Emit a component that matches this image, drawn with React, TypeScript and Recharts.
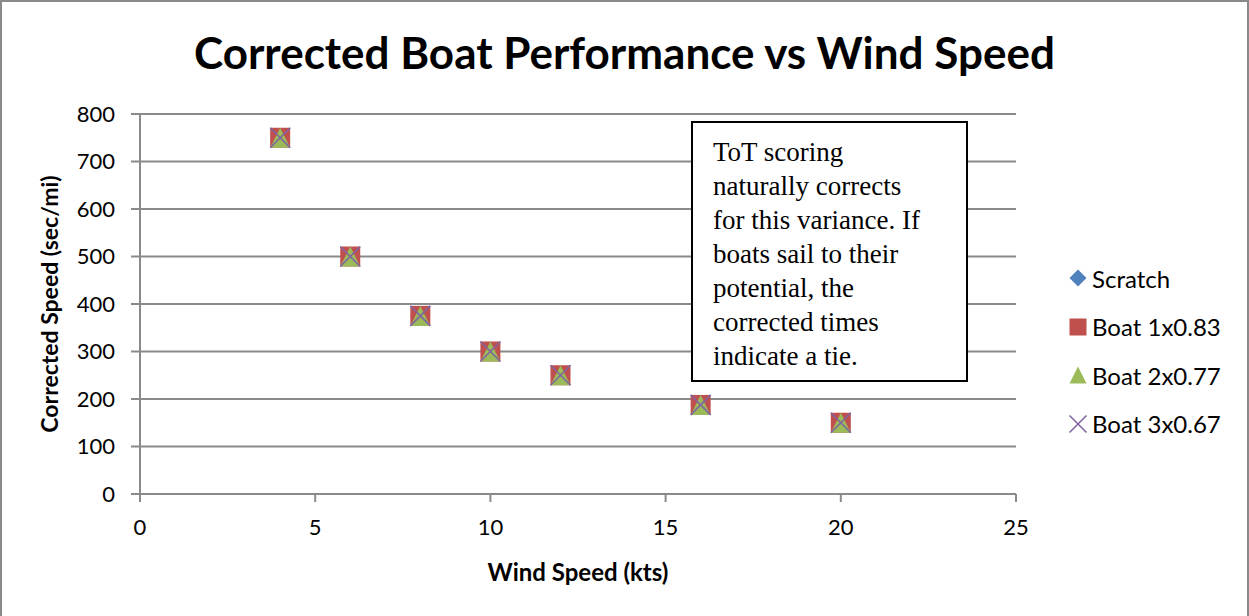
import { ScatterChart, Scatter, XAxis, YAxis, CartesianGrid, Legend } from "recharts"

const windSpeed = [4, 6, 8, 10, 12, 16, 20]
const scratch = [750, 500, 375, 300, 250, 187.5, 150]
const boat1 = [750, 500, 375, 300, 250, 187.5, 150]
const boat2 = [750, 500, 375, 300, 250, 187.5, 150]
const boat3 = [750, 500, 375, 300, 250, 187.5, 150]
const xTicks = [0, 5, 10, 15, 20, 25]
const yTicks = [0, 100, 200, 300, 400, 500, 600, 700, 800]

const seriesNames = ["Scratch", "Boat 1x0.83", "Boat 2x0.77", "Boat 3x0.67"]
const colors = ["#4F81BD", "#C0504D", "#9BBB59", "#8064A2"]
const noteLines = [
  "ToT scoring",
  "naturally corrects",
  "for this variance. If",
  "boats sail to their",
  "potential, the",
  "corrected times",
  "indicate a tie.",
]

const toPoints = (vals: number[]) => windSpeed.map((x, i) => ({ x, y: vals[i] }))

const FONT = "Lato, 'Open Sans', sans-serif"

function Marker({ kind, cx, cy, s }: { kind: number; cx: number; cy: number; s: number }) {
  const h = s / 2
  if (kind === 0)
    return <polygon points={`${cx},${cy - h} ${cx + h},${cy} ${cx},${cy + h} ${cx - h},${cy}`} fill={colors[0]} />
  if (kind === 1) return <rect x={cx - h} y={cy - h} width={s} height={s} fill={colors[1]} />
  if (kind === 2)
    return <polygon points={`${cx},${cy - h} ${cx + h},${cy + h} ${cx - h},${cy + h}`} fill={colors[2]} />
  return (
    <g stroke={colors[3]} strokeWidth={1.6}>
      <line x1={cx - h} y1={cy - h} x2={cx + h} y2={cy + h} />
      <line x1={cx - h} y1={cy + h} x2={cx + h} y2={cy - h} />
    </g>
  )
}

function LegendBox() {
  return (
    <div style={{ fontFamily: FONT, fontSize: 24, color: "#000" }}>
      {seriesNames.map((n, i) => (
        <div key={n} style={{ display: "flex", alignItems: "center", height: 48.5 }}>
          <svg width={20} height={20} style={{ marginRight: 4 }}>
            <Marker kind={i} cx={10} cy={10} s={17} />
          </svg>
          <span>{n}</span>
        </div>
      ))}
    </div>
  )
}

export default function App() {
  const all = [scratch, boat1, boat2, boat3]
  return (
    <div
      style={{
        position: "fixed",
        left: 0,
        top: 0,
        width: 1249,
        height: 616,
        background: "#fff",
        boxSizing: "border-box",
        borderTop: "2px solid #8a8a8a",
        borderLeft: "2px solid #8a8a8a",
        borderRight: "2px solid #8a8a8a",
        overflow: "hidden",
      }}
    >
      <div
        style={{
          position: "absolute",
          left: -2,
          top: 24,
          width: 1249,
          textAlign: "center",
          fontFamily: FONT,
          fontWeight: 700,
          fontSize: 44,
          lineHeight: "52px",
          color: "#000",
        }}
      >
        Corrected Boat Performance vs Wind Speed
      </div>
      <div style={{ position: "absolute", left: -2, top: -2 }}>
        <ScatterChart width={1249} height={616} margin={{ top: 114, right: 53, bottom: 62, left: 40 }}>
          <CartesianGrid horizontal vertical={false} stroke="#8a8a8a" strokeWidth={2} />
          <XAxis
            type="number"
            dataKey="x"
            domain={[0, 25]}
            ticks={xTicks}
            height={60}
            stroke="#8a8a8a"
            strokeWidth={2}
            tickSize={8}
            tick={{ fill: "#000", fontSize: 22, fontFamily: FONT }}
            tickMargin={17}
            label={{
              content: (p: any) => {
                const vb = p.viewBox
                return (
                  <text
                    x={vb.x + vb.width / 2}
                    y={vb.y + 77}
                    textAnchor="middle"
                    dominantBaseline="central"
                    fill="#000"
                    fontSize={24}
                    fontWeight={700}
                    fontFamily={FONT}
                  >
                    Wind Speed (kts)
                  </text>
                )
              },
            }}
          />
          <YAxis
            type="number"
            dataKey="y"
            domain={[0, 800]}
            ticks={yTicks}
            width={100}
            stroke="#8a8a8a"
            strokeWidth={2}
            tickSize={9}
            tick={{ fill: "#000", fontSize: 22, fontFamily: FONT }}
            tickMargin={16}
            label={{
              content: (p: any) => {
                const vb = p.viewBox
                const x = vb.x + 9
                const y = vb.y + vb.height / 2
                return (
                  <text
                    x={x}
                    y={y}
                    transform={`rotate(-90 ${x} ${y})`}
                    textAnchor="middle"
                    dominantBaseline="central"
                    fill="#000"
                    fontSize={23}
                    fontWeight={700}
                    fontFamily={FONT}
                  >
                    Corrected Speed (sec/mi)
                  </text>
                )
              },
            }}
          />
          <Legend
            layout="horizontal"
            verticalAlign="middle"
            align="right"
            content={() => <LegendBox />}
            wrapperStyle={{ position: "absolute", left: 1068, top: 254, width: 180 }}
          />
          {all.map((vals, k) => (
            <Scatter
              key={seriesNames[k]}
              name={seriesNames[k]}
              data={toPoints(vals)}
              fill={colors[k]}
              isAnimationActive={false}
              shape={(p: any) => <Marker kind={k} cx={p.cx} cy={p.cy} s={20} />}
            />
          ))}
        </ScatterChart>
      </div>
      <div
        style={{
          position: "absolute",
          left: 689,
          top: 119,
          width: 277,
          height: 261,
          boxSizing: "border-box",
          border: "2px solid #000",
          background: "#fff",
          padding: "12px 6px 0 20px",
          fontFamily: "'Liberation Serif', 'Times New Roman', serif",
          fontSize: 27,
          lineHeight: "34px",
          color: "#000",
          whiteSpace: "nowrap",
        }}
      >
        {noteLines.map((l) => (
          <div key={l}>{l}</div>
        ))}
      </div>
    </div>
  )
}
